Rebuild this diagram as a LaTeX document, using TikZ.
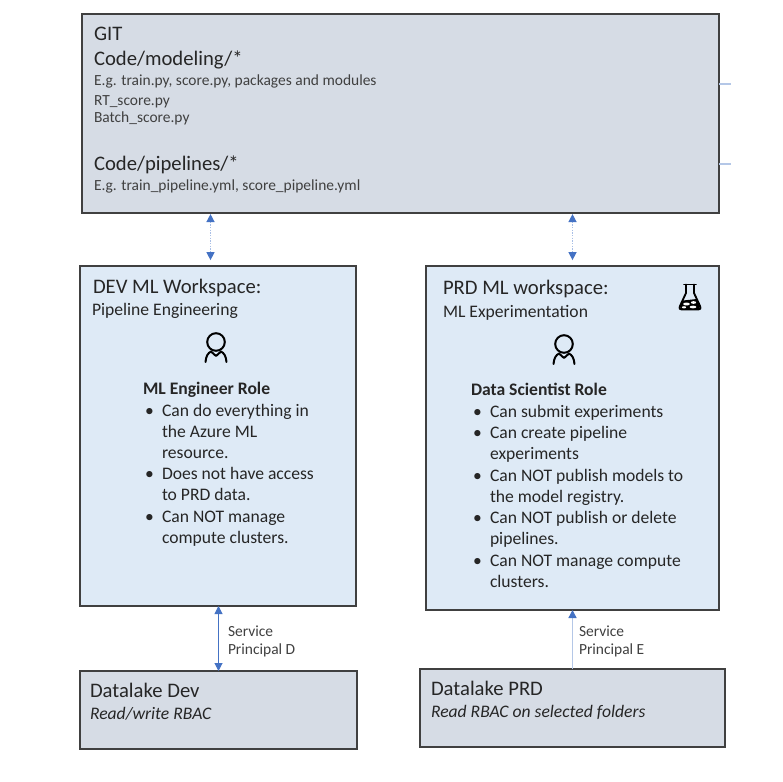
\documentclass[tikz,border=0pt]{standalone}
\usepackage{fontspec}
\setmainfont{Carlito}
\usetikzlibrary{arrows.meta}
\definecolor{greybox}{HTML}{D6DCE5}
\definecolor{bluebox}{HTML}{DEEAF6}
\definecolor{edgedark}{HTML}{404040}
\definecolor{arrowblue}{HTML}{4472C4}
\definecolor{paleblue}{HTML}{B4C7E7}
\definecolor{dotblue}{HTML}{A9BFE6}
\definecolor{inkdark}{HTML}{262626}
\definecolor{inksoft}{HTML}{404040}
\tikzset{
  x=0.75pt,y=-0.75pt,
  panel/.style n args={2}{draw=edgedark,line width=1.35pt,inner sep=0pt,outer sep=0pt,
     minimum width=#1*0.75pt,minimum height=#2*0.75pt},
  greypanel/.style 2 args={panel={#1}{#2},fill=greybox},
  bluepanel/.style 2 args={panel={#1}{#2},fill=bluebox},
  txt/.style={anchor=base west,inner sep=0pt,outer sep=0pt,yshift=-0.75pt},
  head/.style={txt,text=inkdark,font=\fontsize{15.5}{18}\selectfont},
  small/.style={txt,text=inksoft,font=\fontsize{11.6}{14}\selectfont},
  sub/.style={txt,text=inkdark,font=\fontsize{13.2}{16}\selectfont},
  body/.style={txt,text=inkdark,font=\fontsize{13.2}{16}\selectfont},
  role/.style={txt,text=inkdark,font=\fontsize{13.2}{16}\selectfont\bfseries},
  tipdark/.tip={Triangle[color=arrowblue,length=6pt,width=6pt]},
  dotlink/.style={draw=dotblue,line width=1pt,densely dotted,{tipdark}-{tipdark}},
  icon/.style={draw=black,line width=1.5pt,line cap=round,line join=round},
}
\begin{document}
\begin{tikzpicture}
\useasboundingbox[fill=white] (0,0) rectangle (782,782);
% boxes
\node[greypanel={637}{199}] (git) at (400.5,113.5) {};
\node[bluepanel={276}{340}] (dev) at (218,436) {};
\node[bluepanel={293}{344}] (prd) at (572.5,438) {};
\node[greypanel={277}{78}] (dldev) at (218.5,710) {};
\node[greypanel={305}{78}] (dlprd) at (572.5,708) {};
% stub ends
\coordinate (stubA) at (731,84);
\coordinate (stubB) at (731,164);
\draw[draw=paleblue,line width=0.9pt] (git.east |- stubA) -- (stubA);
\draw[draw=paleblue,line width=0.9pt] (git.east |- stubB) -- (stubB);
% git text
\node[head] (t1) at (94,39.5) {GIT};
\node[head] (t2) at (94,64) {Code/modeling/*};
\node[small] (t3) at (94,84.5) {E.g. train.py, score.py, packages and modules};
\node[small] (t4) at (94,104) {RT\_score.py};
\node[small] (t5) at (94,121.5) {Batch\_score.py};
\node[head] (t6) at (94,169.5) {Code/pipelines/*};
\node[small] (t7) at (94,189.5) {E.g. train\_pipeline.yml, score\_pipeline.yml};
% connectors
\coordinate (xa) at (210.5,0);
\coordinate (xb) at (572.5,0);
\coordinate (xc) at (218.5,0);
\draw[dotlink,shorten >=4.4pt,shorten <=0.8pt] (git.south -| xa) -- (dev.north -| xa);
\draw[dotlink,shorten >=4.4pt,shorten <=0.8pt] (git.south -| xb) -- (prd.north -| xb);
\draw[draw=arrowblue,line width=0.75pt,{tipdark}-{tipdark}] (dev.south -| xc) -- (dldev.north -| xc);
\draw[draw=paleblue,line width=1pt,-{tipdark}] (dlprd.north -| xb) -- (prd.south -| xb);
% dev text
\node[head] (d1) at (93,292) {DEV ML Workspace:};
\node[sub] (d2) at (92,314) {Pipeline Engineering};
\node[role] (d3) at (143,393) {ML Engineer Role};
\foreach \y/\b/\s [count=\i] in {
  415/1/{Can do everything in},
  436/0/{the Azure ML},
  457/0/{resource.},
  478/1/{Does not have access},
  499/0/{to PRD data.},
  521/1/{Can NOT manage},
  542/0/{compute clusters.}}{
  \node[body] (dl\i) at (162,\y) {\s};
  \ifnum\b=1 \node[body] (db\i) at (145,\y) {•}; \fi
}
% prd text
\node[head] (p1) at (443,293) {PRD ML workspace:};
\node[sub] (p2) at (443,316) {ML Experimentation};
\node[role] (p3) at (471,394) {Data Scientist Role};
\foreach \y/\b/\s [count=\i] in {
  416/1/{Can submit experiments},
  437/1/{Can create pipeline},
  458/0/{experiments},
  480/1/{Can NOT publish models to},
  501/0/{the model registry.},
  522/1/{Can NOT publish or delete},
  543/0/{pipelines.},
  565/1/{Can NOT manage compute},
  586/0/{clusters.}}{
  \node[body] (pl\i) at (490,\y) {\s};
  \ifnum\b=1 \node[body] (pb\i) at (473,\y) {•}; \fi
}
% service labels
\node[small] (s1) at (228,635.5) {Service};
\node[small] (s2) at (228,653.5) {Principal D};
\node[small] (s3) at (579,635.5) {Service};
\node[small] (s4) at (579,653.5) {Principal E};
% datalake text
\node[head] (l1) at (90,696) {Datalake Dev};
\node[sub,font=\fontsize{13.2}{16}\selectfont\itshape] (l2) at (90,718) {Read/write RBAC};
\node[head] (l3) at (431,694) {Datalake PRD};
\node[sub,font=\fontsize{13.2}{16}\selectfont\itshape] (l4) at (431,716) {Read RBAC on selected folders};
% person icons
\foreach \cx/\cy in {216/342,564/344}{
  \begin{scope}[shift={(\cx,\cy)}]
    \draw[icon] (0,0) circle (6.6pt);
    \draw[icon] (-10.5,20) .. controls (-10,14) and (-8,11) .. (-5,9.5) -- (0,14) -- (5,9.5) .. controls (8,11) and (10,14) .. (10.5,20);
  \end{scope}
}
% flask icon
\begin{scope}[shift={(690,284)}]
  \draw[icon,line width=1.4pt] (-6,0.5) -- (6,0.5);
  \draw[icon,line width=1.4pt] (-4,0.5) -- (-4,9) -- (-10,22) .. controls (-11,25) and (-10,25.5) .. (-8,25.5) -- (8,25.5) .. controls (10,25.5) and (11,25) .. (10,22) -- (4,9) -- (4,0.5);
  \fill[black] (-7,16.5) -- (7,15) -- (10,22) -- (9,25.5) -- (-9,25.5) -- (-10,22) -- cycle;
  \fill[white] (-3.5,20) ellipse (2.6pt and 1.1pt);
  \fill[white] (3.5,18.5) ellipse (2pt and 1pt);
  \fill[white] (3,23) ellipse (2.6pt and 1pt);
  \fill[white] (-6,23.3) ellipse (1.6pt and 0.8pt);
\end{scope}
\end{tikzpicture}
\end{document}
